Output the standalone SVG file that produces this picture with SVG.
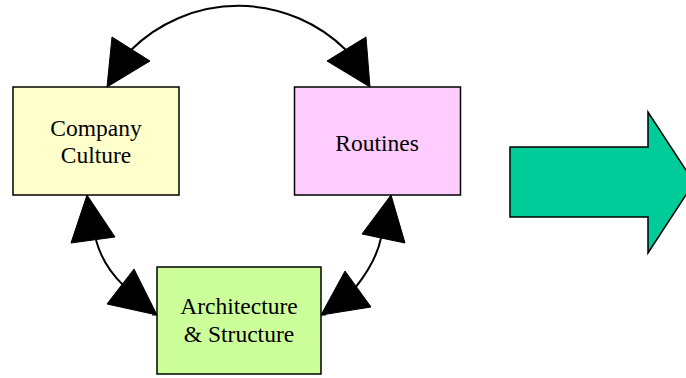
<svg xmlns="http://www.w3.org/2000/svg" width="686" height="378" viewBox="0 0 686 378">
<style>
.box{stroke:#000;stroke-width:1.5}
.lbl{font-family:"Liberation Serif","Times New Roman",serif;font-size:23.5px;fill:#000;text-anchor:middle}
.curve{fill:none;stroke:#000;stroke-width:2}
.head{fill:#000;stroke:#000;stroke-width:1}
.tick{stroke:#000;stroke-width:1}
</style>
<rect width="686" height="378" fill="#fff"/>
<g id="connectors">
<path class="curve" d="M131,50 A153,153 0 0 1 346,50"/>
<polygon class="head" points="107,87 112,37 150,61"/>
<polygon class="head" points="370,87 366,37 327,61"/>
<path class="curve" d="M96,240 Q103,266 124,286"/>
<polygon class="head" points="87,195 71,243 115,237"/>
<polygon class="head" points="157,315 107,304 134,269"/>
<line class="tick" x1="152" y1="315" x2="163" y2="315"/>
<path class="curve" d="M381,238 Q376,262 355,288"/>
<polygon class="head" points="391,195 362,234 405,243"/>
<polygon class="head" points="321,315 345,271 371,307"/>
<line class="tick" x1="315" y1="315" x2="326" y2="315"/>
</g>
<g id="company-culture">
<rect class="box" x="13" y="87" width="166" height="108" fill="#FFFFCC"/>
<text class="lbl" x="96" y="136">Company</text>
<text class="lbl" x="96" y="163">Culture</text>
</g>
<g id="routines">
<rect class="box" x="294.5" y="87" width="166" height="108" fill="#FFCCFF"/>
<text class="lbl" x="377" y="151">Routines</text>
</g>
<g id="architecture">
<rect class="box" x="157" y="267" width="164" height="107" fill="#CCFF99"/>
<text class="lbl" x="239" y="314">Architecture</text>
<text class="lbl" x="239" y="342">&amp; Structure</text>
</g>
<g id="big-arrow">
<polygon points="510,147 648,147 648,112 694,182.5 648,253 648,217 510,217" fill="#00CC99" stroke="#000" stroke-width="1.5"/>
</g>
</svg>
